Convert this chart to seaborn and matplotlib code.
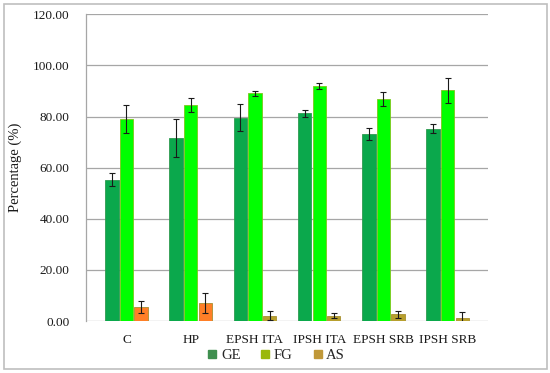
import matplotlib
matplotlib.use("Agg")
import matplotlib.pyplot as plt
import seaborn as sns
import pandas as pd
from matplotlib.lines import Line2D
from matplotlib.patches import Rectangle

categories = ["C", "HP", "EPSH ITA", "IPSH ITA", "EPSH SRB", "IPSH SRB"]
series = ["GE", "FG", "AS"]
ge = [55.3, 71.6, 79.6, 81.2, 73.1, 75.2]
ge_err = [2.6, 7.4, 5.2, 1.3, 2.4, 1.7]
fg = [79.1, 84.4, 89.0, 91.8, 86.9, 90.3]
fg_err = [5.4, 2.7, 1.0, 1.2, 2.8, 4.9]
as_ = [5.4, 7.1, 2.1, 2.1, 2.7, 1.4]
as_err = [2.3, 3.8, 1.7, 1.0, 1.4, 2.3]
yticks = [0, 20, 40, 60, 80, 100, 120]

rows = []
for s, vals in zip(series, [ge, fg, as_]):
    for c, v in zip(categories, vals):
        rows.append({"cat": c, "series": s, "value": v})
df = pd.DataFrame(rows)

sns.set_theme(style="white")
plt.rcParams["font.family"] = ["Liberation Serif", "DejaVu Serif"]

fig = plt.figure(figsize=(5.5, 3.73), dpi=100)
ax = fig.add_axes([0.157, 0.139, 0.73, 0.823])

bar_cols = {"GE": "#0BA84C", "FG": "#00FF00", "AS": "#B8A02E"}
sns.barplot(data=df, x="cat", y="value", hue="series", order=categories,
            hue_order=series, palette=bar_cols, errorbar=None, width=0.68,
            ax=ax, legend=False, saturation=1)

as_colors = ["#FF7F27", "#FF7F27", "#B8A02E", "#B8A02E", "#B8A02E", "#B8A02E"]
edge_cols = {"GE": "#2E9A50", "FG": "#7CC81A", "AS": "#A89030"}
errs = [ge_err, fg_err, as_err]
vals_all = [ge, fg, as_]
for k, (cont, s) in enumerate(zip(ax.containers, series)):
    xs = []
    for i, bar in enumerate(cont):
        w = bar.get_width()
        bar.set_x(bar.get_x() + w * 0.04)
        bar.set_width(w * 0.92)
        bar.set_edgecolor(edge_cols[s])
        bar.set_linewidth(0.6)
        if s == "AS":
            bar.set_facecolor(as_colors[i])
        xs.append(bar.get_x() + bar.get_width() / 2)
    ax.errorbar(xs, vals_all[k], yerr=errs[k], fmt="none", ecolor="#1a1a1a",
                elinewidth=0.8, capsize=2.5, capthick=0.8, zorder=5)

ax.set_ylim(0, 120)
ax.set_yticks(yticks)
ax.set_yticklabels([f"{t:.2f}" for t in yticks])
ax.yaxis.grid(True, color="#A6A6A6", linewidth=0.9)
ax.set_axisbelow(True)
for sp in ["top", "right", "bottom"]:
    ax.spines[sp].set_visible(False)
ax.spines["left"].set_color("#A6A6A6")
ax.spines["left"].set_linewidth(0.9)
ax.tick_params(axis="both", length=0, labelsize=9.5, colors="#1a1a1a", pad=12)
ax.tick_params(axis="x", pad=9)
ax.set_xlabel("")
ax.set_ylabel("Percentage (%)", fontsize=10.5, color="#1a1a1a", labelpad=8)

handles = [Line2D([0], [0], marker="s", linestyle="none", markersize=6,
                  markerfacecolor=c, markeredgecolor=c)
           for c in ["#3F8F4F", "#9AB80A", "#C09838"]]
fig.legend(handles, series, loc="center", bbox_to_anchor=(0.5, 0.047), ncol=3,
           frameon=False, fontsize=10.5, handletextpad=0.1, columnspacing=1.2,
           handlelength=1.0)

fig.patches.append(Rectangle((0.007, 0.012), 0.988, 0.976, transform=fig.transFigure,
                             fill=False, edgecolor="#BFBFBF", linewidth=1.2))

fig.savefig("out.png", dpi=100)
